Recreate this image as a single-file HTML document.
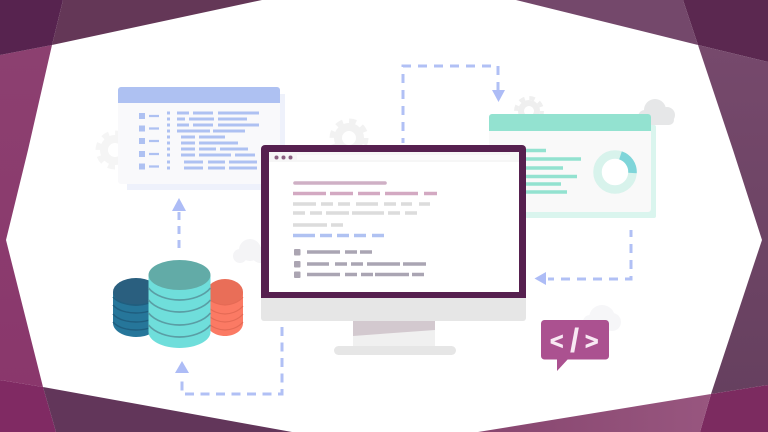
<!DOCTYPE html>
<html><head><meta charset="utf-8"><style>
html,body{margin:0;padding:0;background:#fff;width:768px;height:432px;overflow:hidden}
svg{display:block;filter:blur(.35px)}
text{font-family:"Liberation Sans",sans-serif;font-weight:700;fill:#f8e8f3}
</style></head><body>
<svg width="768" height="432" viewBox="0 0 768 432" xmlns="http://www.w3.org/2000/svg">
<defs>
<linearGradient id="lb" x1="0" y1="0" x2="0" y2="1"><stop offset="0" stop-color="#8c4070"/><stop offset="1" stop-color="#8a376c"/></linearGradient>
<linearGradient id="br" x1="0" y1="0" x2="1" y2="0"><stop offset="0" stop-color="#87466f"/><stop offset="1" stop-color="#98567f"/></linearGradient>
<linearGradient id="rb" x1="0" y1="0" x2="0" y2="1"><stop offset="0" stop-color="#76496c"/><stop offset="1" stop-color="#66405f"/></linearGradient>
</defs>
<!-- background facets -->
<rect width="768" height="432" fill="#fff"/>
<polygon points="0,55 52,45 28,150 6,240 43,387 0,380" fill="url(#lb)"/>
<polygon points="0,0 63,0 52,45 0,55" fill="#57234f"/>
<polygon points="63,0 262,0 52,45" fill="#643757"/>
<polygon points="0,380 43,387 56,432 0,432" fill="#802a63"/>
<polygon points="43,387 56,432 292,432" fill="#62365a"/>
<polygon points="683,0 768,0 768,62 698,45" fill="#5b2850"/>
<polygon points="516,0 683,0 698,45" fill="#74486b"/>
<polygon points="698,45 768,62 768,385 711,394 748,282 762,240 733,150" fill="url(#rb)"/>
<polygon points="711,394 768,385 768,432 700,432" fill="#7c2b60"/>
<polygon points="711,394 700,432 478,432" fill="url(#br)"/>

<!-- clouds and gears in the back -->
<circle cx="115" cy="150" r="11" fill="none" stroke="#f5f5f5" stroke-width="8"/>
<circle cx="115" cy="150" r="17" fill="none" stroke="#f5f5f5" stroke-width="5" stroke-dasharray="7 6.350"/>
<circle cx="349" cy="138" r="11" fill="none" stroke="#f2f2f2" stroke-width="8"/>
<circle cx="349" cy="138" r="17" fill="none" stroke="#f2f2f2" stroke-width="5" stroke-dasharray="7 6.350"/>
<circle cx="529" cy="111" r="8" fill="none" stroke="#efefef" stroke-width="6"/>
<circle cx="529" cy="111" r="13" fill="none" stroke="#efefef" stroke-width="4" stroke-dasharray="5.500 4.700"/>
<g fill="#e6e7e8"><circle cx="655" cy="110" r="11"/><circle cx="667" cy="115" r="8"/><circle cx="645" cy="117" r="7"/><rect x="640" y="115" width="34" height="10" rx="5"/></g>
<g fill="#f4f4f6"><circle cx="250" cy="250" r="11"/><circle cx="240" cy="256" r="7"/><circle cx="260" cy="255" r="8"/></g>
<g fill="#f6f6f8"><circle cx="602" cy="318" r="13"/><circle cx="612" cy="322" r="9"/><circle cx="590" cy="322" r="7"/></g>

<!-- left window -->
<rect x="127" y="94" width="158" height="96" fill="#eef1fb"/>
<rect x="118" y="87" width="162" height="97" rx="3" fill="#f9f9fb"/>
<path d="M118 103V90a3 3 0 0 1 3-3H277a3 3 0 0 1 3 3V103Z" fill="#aec1f2"/>
<g fill="#aec1f2">
<rect x="139" y="113" width="6" height="6"/><rect x="139" y="125.500" width="6" height="6"/><rect x="139" y="138" width="6" height="6"/><rect x="139" y="151" width="6" height="6"/><rect x="139" y="163.500" width="6" height="6"/>
</g>
<path stroke="#aec1f2" stroke-width="2.200" fill="none" d="M149 116H159M149 128.500H159M149 141H159M149 154H159M149 166.500H159"/>
<path stroke="#aec1f2" stroke-width="3" fill="none" d="M167 113H170M167 119H170M167 125H170M167 131H170M167 137H170M167 143H170M167 149H170M167 155H170M167 162H170M167 168H170
M177 113H189M193 113H213M218 113H259
M177 119H185M189 119H214M218 119H247
M177 125H189M193 125H213M218 125H259
M177 131H210M213 131H245
M181 137H195M199 137H225
M181 143H195M199 143H238
M181 149H195M199 149H216M220 149H248
M181 155H195M199 155H231M235 155H255
M184 162H203M208 162H225M229 162H257
M184 168H203M208 168H225M229 168H257"/>

<!-- right window -->
<rect x="525" y="125" width="131" height="93" rx="2" fill="#daf5ee"/>
<rect x="489" y="114" width="162" height="98" rx="3" fill="#f9f9f9"/>
<path d="M489 131V117a3 3 0 0 1 3-3H648a3 3 0 0 1 3 3V131Z" fill="#93e2d0"/>
<path stroke="#93e2d0" stroke-width="3.500" fill="none" d="M520 150.500H546M520 159H581M520 168H563M520 176.500H577M520 184H561M520 192H567"/>
<circle cx="615" cy="172" r="17.500" fill="#fff" stroke="#d8f3ec" stroke-width="8.500"/>
<path d="M620.500 155.400A17.500 17.500 0 0 1 632.500 173" fill="none" stroke="#7fd5d9" stroke-width="8.500"/>

<!-- connectors -->
<g fill="none" stroke="#b1c0f5" stroke-width="3" stroke-dasharray="9 7">
<path d="M179 248V212" stroke-dasharray="8 6"/>
<path d="M403 143V66H498V92" stroke-dashoffset="4"/>
<path d="M631 230V279H548" stroke-dashoffset="2"/>
<path d="M282 327V394H182V378" stroke-dasharray="9 6.500"/>
</g>
<g fill="#adbcf6">
<polygon points="172,211 186,211 179,198"/>
<polygon points="492,90 505,90 498.500,102"/>
<polygon points="546,272 546,285 534.500,278.500"/>
<polygon points="175,373 189,373 182,361"/>
</g>

<!-- monitor -->
<path d="M353 321H435V346H353Z" fill="#f0f0f0"/>
<polygon points="353,320 435,320 435,330 353,336" fill="#d3c9cf"/>
<rect x="334" y="346" width="122" height="9" rx="4.500" fill="#e6e6e6"/>
<path d="M261 296H526V318a3 3 0 0 1-3 3H264a3 3 0 0 1-3-3Z" fill="#e6e6e6"/>
<path d="M261 298V149a4 4 0 0 1 4-4H522a4 4 0 0 1 4 4V298Z" fill="#56204f"/>
<rect x="269" y="152" width="250" height="140" fill="#fff"/>
<rect x="269" y="152" width="250" height="10" fill="#f6f6f6"/>
<rect x="297" y="155" width="213" height="5" fill="#fbfbfb"/>
<g fill="#8a5f80"><circle cx="276.500" cy="157.500" r="2"/><circle cx="283.500" cy="157.500" r="2"/><circle cx="290.500" cy="157.500" r="2"/></g>
<g fill="none" stroke-width="3.600">
<path stroke="#cfb0c5" stroke-linecap="round" d="M295 183H385"/>
<path stroke="#d3a9c2" d="M293 193.500H326M330 193.500H353M358 193.500H380M385 193.500H418M424 193.500H437"/>
<path stroke="#dcdcdc" d="M293 204H316M321 204H333M338 204H350M356 204H378M384 204H396M401 204H412M419 204H430M293 213H305M310 213H322M326 213H349M352 213H384M388 213H400M405 213H417M293 225H327M331 225H343"/>
<path stroke="#b0c2f2" d="M293 235.500H315M320 235.500H332M337 235.500H349M354 235.500H366M372 235.500H384"/>
<path stroke="#aaa5b3" d="M307 252H340M345 252H357M360 252H372M307 264H329M335 264H347M351 264H363M367 264H400M403 264H426M307 274.500H340M345 274.500H357M361 274.500H373M375 274.500H409M412 274.500H424"/>
</g>
<g fill="#aba5b2"><rect x="294" y="249" width="6.500" height="6.500" rx="1"/><rect x="294" y="261" width="6.500" height="6.500" rx="1"/><rect x="294" y="271.500" width="6.500" height="6.500" rx="1"/></g>

<!-- databases -->
<path d="M113 292V323C113 331 124 337 136 337S159 331 159 323V292Z" fill="#26769a"/>
<ellipse cx="136" cy="292" rx="23" ry="14" fill="#2a5f7f"/>
<g fill="none" stroke="#1f5e7f" stroke-width="1.400">
<path d="M113 297C118 303 128 305 136 305S154 303 159 297"/>
<path d="M113 305C118 311 128 313 136 313S154 311 159 305"/>
<path d="M113 314C118 320 128 322 136 322S154 320 159 314"/>
<path d="M113 322C118 328 128 330 136 330S154 328 159 322"/>
</g>
<path d="M207 292V323C207 331 216 336 225 336S243 331 243 323V292Z" fill="#fb7a64"/>
<ellipse cx="225" cy="292" rx="18" ry="13" fill="#e96e58"/>
<g fill="none" stroke="#e56a55" stroke-width="1.200">
<path d="M207 297C212 303 220 305 225 305S238 303 243 297"/>
<path d="M207 306C212 312 220 314 225 314S238 312 243 306"/>
<path d="M207 314C212 320 220 322 225 322S238 320 243 314"/>
<path d="M207 322C212 328 220 330 225 330S238 328 243 322"/>
</g>
<path d="M148.500 275V332C148.500 341 163 348 179.500 348S210.500 341 210.500 332V275Z" fill="#6fdedb"/>
<ellipse cx="179.500" cy="275" rx="31" ry="15" fill="#62aba7"/>
<g fill="none" stroke="#5a9ea5" stroke-width="1.700">
<path d="M148.500 288C155 296 168 300 179.500 300S204 296 210.500 288"/>
<path d="M148.500 300C155 308 168 312 179.500 312S204 308 210.500 300"/>
<path d="M148.500 313C155 321 168 325 179.500 325S204 321 210.500 313"/>
<path d="M148.500 325C155 333 168 337 179.500 337S204 333 210.500 325"/>
</g>

<!-- code bubble -->
<rect x="541" y="320" width="68" height="39.500" rx="3.500" fill="#ab5190"/>
<polygon points="557,358 569,358 557,371" fill="#ab5190"/>
<text x="550" y="349" font-size="23" stroke="#f8e8f3" stroke-width=".7">&lt;</text>
<text x="570" y="351.500" font-size="33">/</text>
<text x="585" y="349" font-size="23" stroke="#f8e8f3" stroke-width=".7">&gt;</text>
</svg>
</body></html>
